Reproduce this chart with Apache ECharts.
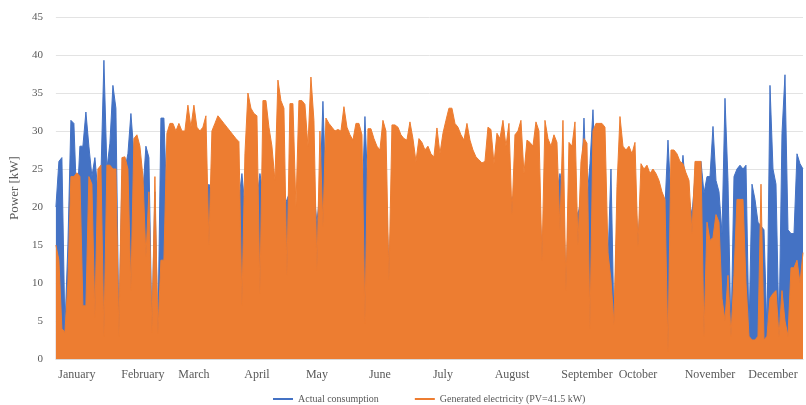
<!DOCTYPE html>
<html>
<head>
<meta charset="utf-8">
<title>Power</title>
<script src="https://cdn.jsdelivr.net/npm/echarts@6/dist/echarts.min.js"></script>
<style>
  html, body { margin: 0; padding: 0; background: #fff; }
  #main { width: 806px; height: 405px; }
</style>
</head>
<body>
<div id="main"></div>
<script>
// month names and the point index where each label sits
const monthNames = ['January', 'February', 'March', 'April', 'May', 'June',
  'July', 'August', 'September', 'October', 'November', 'December']
const monthIdx = [7, 29, 46, 67, 87, 108, 129, 152, 177, 194, 218, 239]

// y axis ticks
const yTicks = [0, 5, 10, 15, 20, 25, 30, 35, 40, 45]

// Actual consumption [kW]
const consumption = [
  20, 26, 26.5, 4, 15, 31.4, 31, 20, 28, 28,
  32.5, 28, 24, 26.5, 22, 24, 39.3, 25, 28.4, 36,
  33, 3.5, 24, 25, 27, 32.3, 27, 28, 26, 22,
  28, 26.5, 3.8, 22, 3.4, 31.7, 31.7, 20, 20, 20,
  20, 21, 22, 20, 21, 22, 20, 21, 20, 22,
  22, 23, 22, 21, 20, 22, 21, 20, 21, 22,
  22, 21, 24.4, 20, 22, 21, 22, 21, 24.4, 22,
  22, 21, 20, 22, 21, 22, 20, 21, 22, 20,
  18, 22, 21, 22, 20, 21, 22, 18, 22, 33.9,
  22, 21, 22, 20, 21, 22, 20, 21, 22, 20,
  21, 22, 20, 31.9, 22, 21, 20, 22, 21, 20,
  22, 12, 21, 20, 22, 21, 20, 22, 21, 20,
  21, 22, 20, 21, 22, 20, 21, 22, 20, 21,
  20, 22, 21, 20, 22, 21, 20, 22, 21, 20,
  21, 22, 20, 21, 22, 20, 21, 22, 20, 21,
  20, 22, 21, 22, 20, 21, 22, 20, 21, 22,
  21, 22, 14, 21, 22, 20, 21, 22, 24.4, 22,
  10, 21, 22, 20, 19, 21, 31.7, 21, 25.7, 32.8,
  22, 21, 22, 20, 13, 25, 4.5, 18, 21, 22,
  20, 21, 20, 22, 16, 21, 20, 22, 21, 20,
  20, 19, 18, 20, 28.8, 21, 20, 22, 22, 26.8,
  22, 21, 19, 24, 25, 26, 21.8, 24, 24, 30.6,
  23.5, 22, 16.5, 34.3, 23.5, 3, 24, 25, 25.5, 25,
  25.5, 3.5, 23, 21, 18, 17.5, 17, 3.5, 36, 25,
  23, 3.5, 29.7, 37.4, 17, 16.5, 16.5, 27, 25.7, 25
]

// Generated electricity (PV=41.5 kW) [kW]
const generated = [
  15, 13, 4, 3.5, 10, 24, 24, 24.5, 24, 7,
  7, 24, 23, 5.5, 25, 25.5, 3, 25.5, 25.5, 25,
  25, 3, 26.5, 26.6, 25, 9, 29, 29.5, 28, 24,
  13.5, 22, 3.5, 24, 3.4, 13, 13, 29.7, 31, 31,
  30, 31, 30, 30, 33.4, 30.5, 33.4, 30.5, 30, 30.5,
  32, 15, 30, 31, 32, 31.5, 31, 30.5, 30, 29.5,
  29, 28.6, 7, 27, 35, 33, 32.3, 32, 8.6, 34,
  34, 30.5, 28, 23.5, 36.7, 34, 33, 11, 33.6, 33.6,
  20, 34, 34, 33.5, 28, 37.1, 31.4, 11.7, 30, 17.4,
  31.7, 31, 30.5, 30, 30.2, 30, 33.2, 30.5, 29.5, 28.8,
  31, 31, 29.5, 4.7, 30.3, 30.3, 29, 28, 27.5, 31.4,
  30, 10.4, 30.8, 30.8, 30.5, 29.5, 29, 28.8, 31.2, 29,
  26, 29, 28.5, 27.5, 28, 27, 26.6, 30.4, 27, 29.7,
  31.4, 33, 33, 31, 30.5, 29.5, 28.8, 31, 28.8, 27.5,
  26.6, 26.2, 25.8, 26, 30.5, 30.2, 25.7, 29.7, 29, 31.4,
  28, 31, 19, 29.5, 30, 31.4, 24.4, 28.8, 28.5, 28,
  31.2, 30, 13, 31.4, 29, 28, 29.5, 28.5, 17, 31.4,
  9, 28.5, 28, 31.2, 15, 26, 29, 28.4, 4, 30,
  31, 31, 31, 30.5, 14, 10.4, 4.5, 22.7, 31.9, 28,
  27.5, 28, 27, 28.5, 14.8, 25.7, 25, 25.5, 24.4, 25,
  24.4, 23.5, 22, 21, 1, 27.5, 27.5, 27, 26, 25.7,
  24.5, 23.5, 16.5, 26, 26, 26, 3, 18, 15.6, 16,
  19, 18, 8, 5, 11, 3, 11, 21, 21, 21,
  10, 3, 2.5, 2.5, 3, 23, 2.5, 3, 8, 8.6,
  9, 3, 9, 5, 3, 12, 12, 13, 10, 14
]

// one category per point, labels only at month positions
const categories = generated.map((v, i) => String(i))
const monthAt = {}
monthIdx.forEach((idx, k) => { monthAt[idx] = monthNames[k] })

const textColor = '#595959'
const font = 'Liberation Serif'

const chart = echarts.init(document.getElementById('main'))
const option = {
  animation: false,
  grid: {
    left: 55,
    right: 1,
    top: 17,
    bottom: 46
  },
  legend: {
    left: 268,
    top: 389,
    itemGap: 36,
    itemWidth: 20,
    itemHeight: 2,
    icon: 'rect',
    textStyle: { fontFamily: font, fontSize: 10, color: textColor },
    data: ['Actual consumption', 'Generated electricity (PV=41.5 kW)']
  },
  xAxis: {
    type: 'category',
    data: categories,
    boundaryGap: false,
    axisTick: { show: false },
    axisLine: { lineStyle: { color: '#d9d9d9' } },
    axisLabel: {
      interval: 0,
      margin: 10,
      fontFamily: font,
      fontSize: 12,
      color: textColor,
      formatter: (val, idx) => monthAt[idx] || ''
    }
  },
  yAxis: {
    type: 'value',
    min: yTicks[0],
    max: yTicks[yTicks.length - 1],
    interval: 5,
    name: 'Power [kW]',
    nameLocation: 'middle',
    nameGap: 31,
    nameTextStyle: { fontFamily: font, fontSize: 13, color: textColor },
    axisLabel: { fontFamily: font, fontSize: 11, color: textColor, margin: 13 },
    splitLine: { lineStyle: { color: '#e3e3e3' } }
  },
  series: [
    {
      // consumption sits behind the generation area
      name: 'Actual consumption',
      type: 'line',
      z: 2,
      data: consumption,
      symbol: 'none',
      itemStyle: { color: '#4472C4' },
      lineStyle: { width: 1, color: '#4472C4' },
      areaStyle: { color: '#4472C4', opacity: 1 }
    },
    {
      name: 'Generated electricity (PV=41.5 kW)',
      type: 'line',
      z: 3,
      data: generated,
      symbol: 'none',
      itemStyle: { color: '#ED7D31' },
      lineStyle: { width: 1, color: '#ED7D31' },
      areaStyle: { color: '#ED7D31', opacity: 1 }
    }
  ]
}
chart.setOption(option)
</script>
</body>
</html>
